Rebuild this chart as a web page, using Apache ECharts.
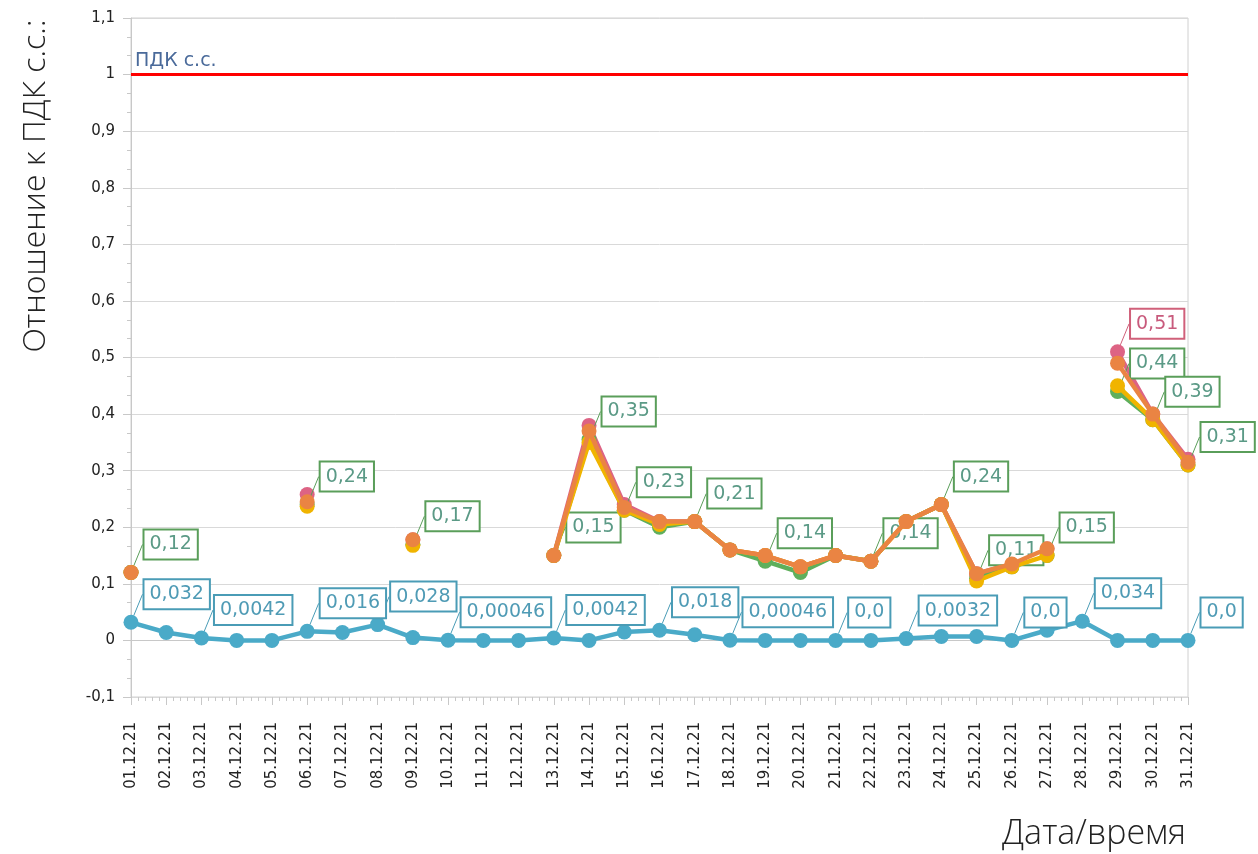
<!DOCTYPE html>
<html><head><meta charset="utf-8">
<script src="https://cdn.jsdelivr.net/npm/echarts@6/dist/echarts.min.js"></script>
<style>html,body{margin:0;padding:0;background:#fff}#c{width:1258px;height:854px}</style>
</head><body><div id="c"></div><script>
const categories = ['01.12.21','02.12.21','03.12.21','04.12.21','05.12.21','06.12.21','07.12.21','08.12.21','09.12.21','10.12.21','11.12.21','12.12.21','13.12.21','14.12.21','15.12.21','16.12.21','17.12.21','18.12.21','19.12.21','20.12.21','21.12.21','22.12.21','23.12.21','24.12.21','25.12.21','26.12.21','27.12.21','28.12.21','29.12.21','30.12.21','31.12.21'];
const pinkValues   = [0.12,null,null,null,null,0.258,null,null,0.178,null,null,null,0.15,0.38,0.24,0.21,0.21,0.16,0.15,0.13,0.15,0.14,0.21,0.24,0.118,0.135,0.162,null,0.51,0.40,0.32];
const greenValues  = [0.12,null,null,null,null,0.24,null,null,0.17,null,null,null,0.15,0.355,0.23,0.20,0.21,0.16,0.14,0.12,0.15,0.14,0.21,0.24,0.11,0.13,0.15,null,0.44,0.39,0.31];
const yellowValues = [0.12,null,null,null,null,0.237,null,null,0.168,null,null,null,0.15,0.35,0.23,0.205,0.21,0.16,0.15,0.13,0.15,0.14,0.21,0.24,0.105,0.13,0.15,null,0.45,0.39,0.31];
const orangeValues = [0.12,null,null,null,null,0.245,null,null,0.178,null,null,null,0.15,0.37,0.235,0.21,0.21,0.16,0.15,0.13,0.15,0.14,0.21,0.24,0.118,0.135,0.162,null,0.49,0.40,0.315];
const blueValues   = [0.032,0.014,0.0042,0,0,0.016,0.014,0.028,0.005,0.00046,0,0,0.0042,0,0.015,0.018,0.01,0.00046,0,0,0,0,0.0032,0.007,0.007,0,0.018,0.034,0,0,0];
const pinkLabels   = [null,null,null,null,null,null,null,null,null,null,null,null,null,null,null,null,null,null,null,null,null,null,null,null,null,null,null,null,'0,51',null,null];
const greenLabels  = ['0,12',null,null,null,null,'0,24',null,null,'0,17',null,null,null,'0,15','0,35','0,23',null,'0,21',null,'0,14',null,null,'0,14',null,'0,24','0,11',null,'0,15',null,'0,44','0,39','0,31'];
const blueLabels   = ['0,032',null,'0,0042',null,null,'0,016',null,'0,028',null,'0,00046',null,null,'0,0042',null,null,'0,018',null,'0,00046',null,null,'0,0',null,'0,0032',null,null,'0,0',null,'0,034',null,null,'0,0'];
const limitValue = 1;
const limitLabel = 'ПДК с.с.';
const yAxisTitle = 'Отношение к ПДК с.с.:';
const xAxisTitle = 'Дата/время';

const FONT = 'DejaVu Sans';
function buildData(values, labels) {
  return values.map((v, i) => labels && labels[i] != null
    ? { value: v, label: { show: true, formatter: labels[i] } }
    : v);
}
function labelStyle(border, text) {
  return {
    show: false, position: 'right', distance: 4,
    color: text, fontFamily: FONT, fontSize: 19, lineHeight: 23,
    backgroundColor: '#fff', borderColor: border, borderWidth: 2,
    padding: [3, 5, 2, 5]
  };
}
function mkSeries(name, color, values, labels, labBorder, labText, z) {
  return {
    name, type: 'line', data: buildData(values, labels), z: z,
    connectNulls: false, symbol: 'circle', symbolSize: 15, showSymbol: true,
    lineStyle: { color, width: 4.5 }, itemStyle: { color },
    label: labelStyle(labBorder || color, labText || color),
    labelLayout: { dx: 2, dy: -28, hideOverlap: false },
    labelLine: { show: true, lineStyle: { color: labBorder || color, width: 1 } },
    emphasis: { disabled: true }, animation: false
  };
}
const chart = echarts.init(document.getElementById('c'));
chart.setOption({
  animation: false,
  grid: { left: 131, right: 70, top: 18, bottom: 157, show: true, borderColor: '#d0d0d0', borderWidth: 1, backgroundColor: 'transparent' },
  xAxis: [{
    type: 'category', data: categories, boundaryGap: false,
    axisLine: { lineStyle: { color: '#c8c8c8' } },
    axisTick: { show: false },
    axisLabel: { rotate: 90, margin: 25, color: '#222', fontFamily: FONT, fontSize: 15 },
    splitLine: { show: false }
  }, {
    type: 'value', min: 0, max: 30, interval: 1, position: 'bottom',
    axisLine: { show: false },
    axisTick: { show: true, length: 8, lineStyle: { color: '#c8c8c8' } },
    minorTick: { show: true, splitNumber: 5, length: 4, lineStyle: { color: '#c8c8c8' } },
    axisLabel: { show: false }, splitLine: { show: false }
  }],
  yAxis: {
    type: 'value', min: -0.1, max: 1.1, interval: 0.1,
    axisLine: { show: true, lineStyle: { color: '#c8c8c8' } },
    axisTick: { show: true, length: 8, lineStyle: { color: '#c8c8c8' } },
    minorTick: { show: true, splitNumber: 3, length: 4, lineStyle: { color: '#c8c8c8' } },
    axisLabel: { margin: 16, color: '#222', fontFamily: FONT, fontSize: 15,
      formatter: v => String(Math.round(v * 10) / 10).replace('.', ',') },
    splitLine: { show: true, lineStyle: { color: '#d9d9d9', width: 1 } }
  },
  graphic: [
    { type: 'text', x: 36, y: 186, rotation: Math.PI / 2,
      style: { text: yAxisTitle, font: '300 32px "Open Sans"', fill: '#222', textAlign: 'center', textVerticalAlign: 'middle' } },
    { type: 'text', x: 1186, y: 834,
      style: { text: xAxisTitle, font: '300 34px "Open Sans"', fill: '#222', textAlign: 'right', textVerticalAlign: 'middle' } }
  ],
  series: [
    mkSeries('s1', '#dd6384', pinkValues, pinkLabels, '#d0607a', '#c85a7c', 2),
    mkSeries('s2', '#5faf5c', greenValues, greenLabels, '#5a9e5a', '#5b9a86', 3),
    mkSeries('s3', '#f0b400', yellowValues, null, null, null, 4),
    mkSeries('s4', '#ea8443', orangeValues, null, null, null, 5),
    Object.assign(mkSeries('s5', '#4aaac8', blueValues, blueLabels, '#4a9cb6', '#4f9bb5', 6), {
      markLine: {
        silent: true, symbol: ['none', 'none'], animation: false,
        lineStyle: { color: '#ff0000', width: 3, type: 'solid' },
        label: { show: true, position: 'insideStartTop', formatter: limitLabel, color: '#4a6a9a', fontFamily: FONT, fontSize: 19, distance: [4, 4] },
        data: [{ yAxis: limitValue }]
      }
    })
  ]
});
</script></body></html>
